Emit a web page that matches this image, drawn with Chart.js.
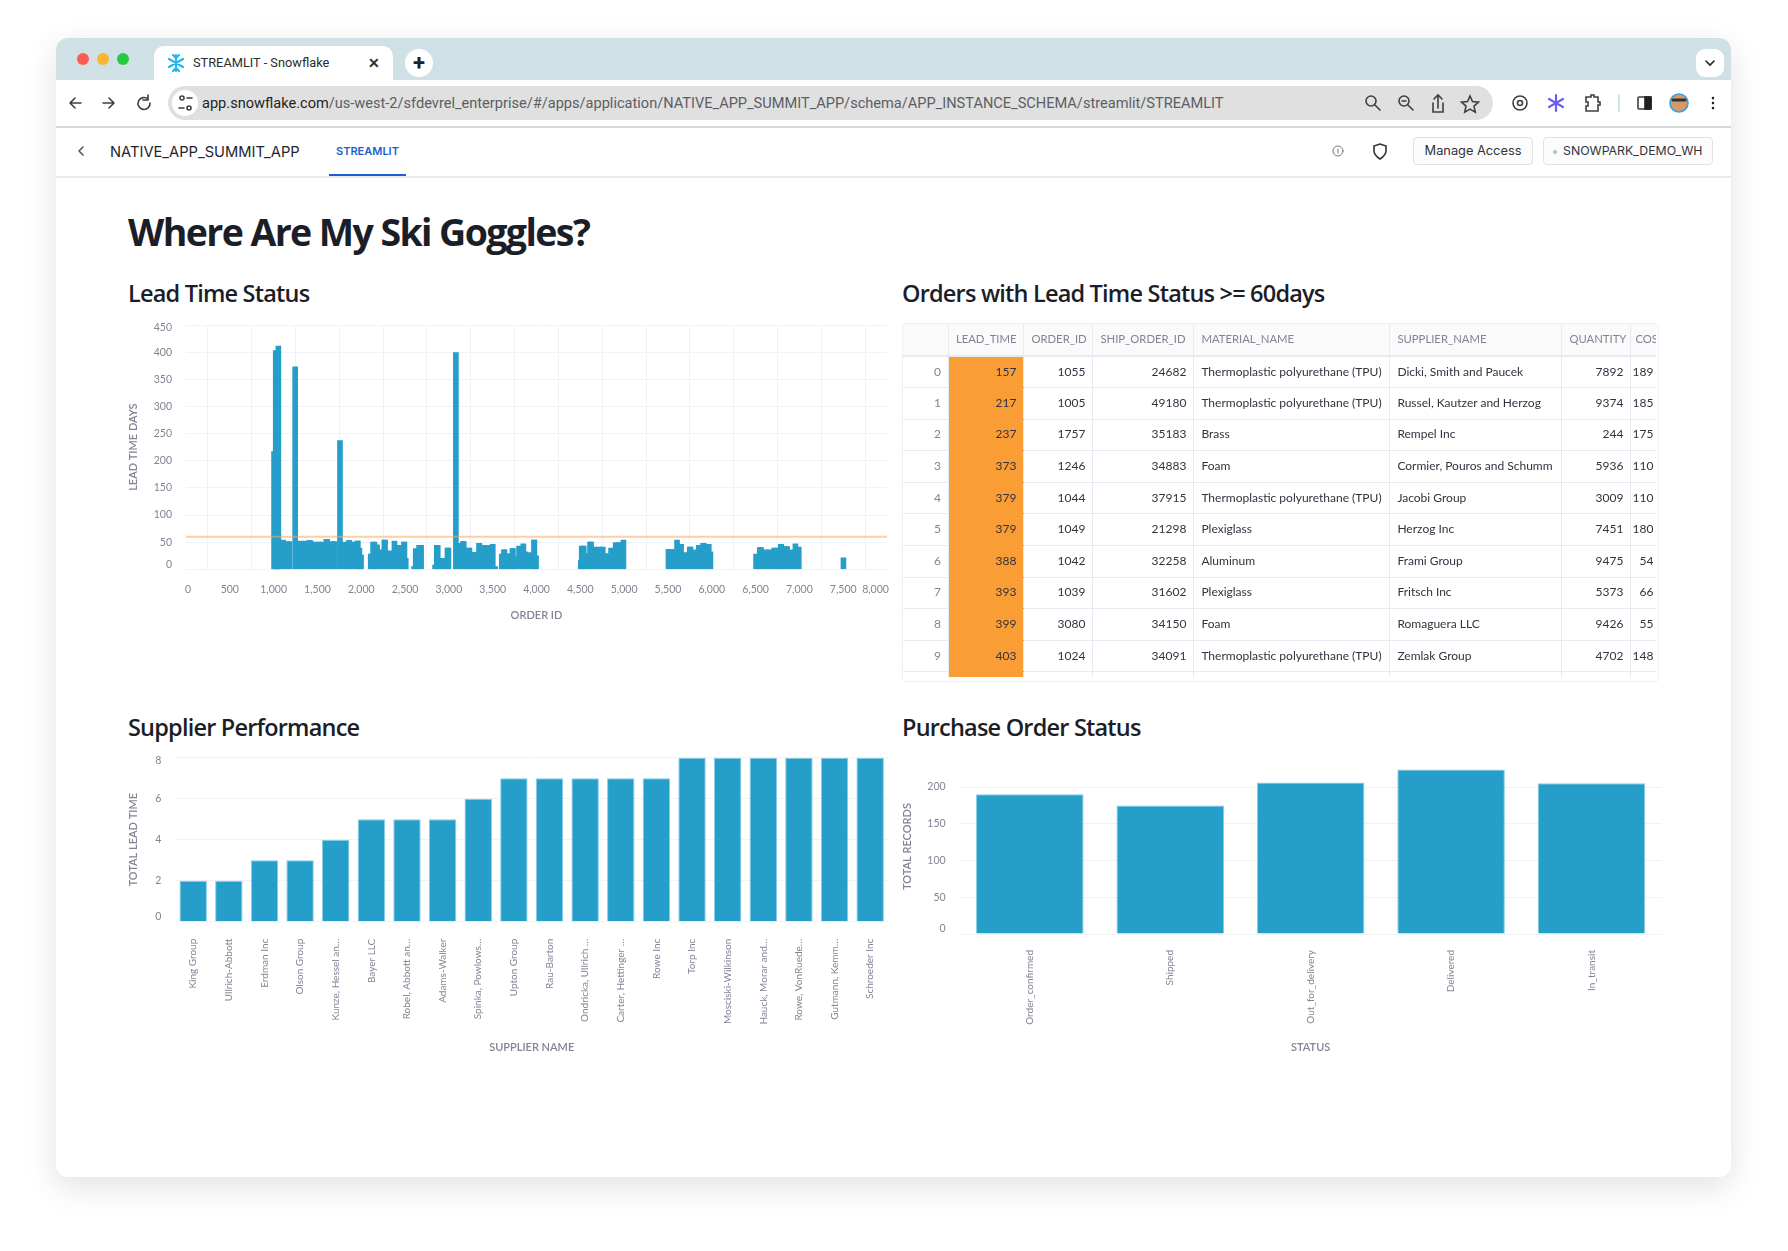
<!DOCTYPE html>
<html>
<head>
<title>STREAMLIT - Snowflake</title>
<meta charset="utf-8">
<script src="https://cdn.jsdelivr.net/npm/chart.js@4"></script>
<style>
html,body{margin:0;padding:0;background:#fff;width:1788px;height:1251px;overflow:hidden;font-family:Lato,sans-serif}
.abs,canvas,svg.ic{position:absolute}
.abs{white-space:nowrap}
#win{position:absolute;left:56px;top:38px;width:1675px;height:1139px;background:#fff;border-radius:12px;box-shadow:0 10px 32px rgba(0,0,0,.12)}
h1,h2{position:absolute;margin:0;color:#1b1e27;white-space:nowrap;font-family:"Open Sans";font-weight:700}
h1{left:128px;top:206px;font-size:37.5px;line-height:52px;letter-spacing:-1.6px}
h2{font-size:23.5px;line-height:32px;font-weight:600;letter-spacing:-.8px}
#tbl{position:absolute;left:902px;top:323px;width:757px;height:359px;border:1px solid #eef0f3;box-sizing:border-box;border-radius:4px;overflow:hidden}
#tblclip{position:absolute;left:0;top:0;width:753px;height:353px;overflow:hidden}
table{border-collapse:collapse;table-layout:fixed;width:758px;font:12px Lato;color:#31333f}
th{height:32px;padding:0 7px 2px;background:#fafafa;font-weight:400;font-size:11.3px;color:#808495;text-align:left;border-right:1px solid #e6eaf1;border-bottom:2px solid #e6eaf1;box-sizing:border-box;overflow:hidden}
th:last-child{padding-left:4px}
td{height:31.6px;padding:0 7px 2px;border-right:1px solid #e6eaf1;border-bottom:1px solid #e6eaf1;box-sizing:border-box;overflow:hidden;white-space:nowrap}
td:last-child{padding-left:0}
td.n{text-align:right}
td.i{text-align:right;color:#808495;background:#fff}
td.o{background:#fb9d35;text-align:right;border-bottom-color:#fb9d35}
.btn{position:absolute;border:1px solid #dfe1e5;border-radius:4px;background:#fcfcfc;box-sizing:border-box;color:#30343c;font:12.8px Inter;text-align:center;line-height:26px}
</style>
</head>
<body>
<div id="win"></div>
<!-- browser frame -->
<div class="abs" style="left:56px;top:38px;width:1675px;height:42px;background:#cfe1e5;border-radius:12px 12px 0 0"></div>
<div class="abs" style="left:56px;top:80px;width:1675px;height:46px;background:#fff;border-bottom:2px solid #d5d7da;border-radius:8px 8px 0 0"></div>
<div class="abs" style="left:154px;top:46px;width:239px;height:38px;background:#fff;border-radius:10px 10px 0 0"></div>
<div class="abs" style="left:77px;top:53px;width:12px;height:12px;border-radius:6px;background:#fd5c55"></div>
<div class="abs" style="left:97px;top:53px;width:12px;height:12px;border-radius:6px;background:#fbb52f"></div>
<div class="abs" style="left:117px;top:53px;width:12px;height:12px;border-radius:6px;background:#28c840"></div>
<div class="abs" style="left:193px;top:54px;font:12.8px/18px Roboto;color:#2a2d31">STREAMLIT - Snowflake</div>
<div class="abs" style="left:368px;top:54px;font:700 14px/18px Roboto;color:#2a2d31">✕</div>
<div class="abs" style="left:405px;top:49px;width:28px;height:28px;border-radius:14px;background:#fff;text-align:center;font:700 22px/27px Roboto;color:#222">+</div>
<div class="abs" style="left:1696px;top:49px;width:28px;height:28px;border-radius:9px;background:#fff"></div>
<div class="abs" style="left:168px;top:86px;width:1325px;height:34px;border-radius:17px;background:#e0e0e0"></div>
<div class="abs" style="left:172px;top:90px;width:26px;height:26px;border-radius:13px;background:#fff"></div>
<div class="abs" style="left:202px;top:93px;font:14.58px/20px Roboto;color:#1f1f1f" id="url"><span>app.snowflake.com</span><span style="color:#5b5e63">/us-west-2/sfdevrel_enterprise/#/apps/application/NATIVE_APP_SUMMIT_APP/schema/APP_INSTANCE_SCHEMA/streamlit/STREAMLIT</span></div>
<!-- app header -->
<div class="abs" style="left:56px;top:176px;width:1675px;height:2px;background:#e8e9eb"></div>
<div class="abs" style="left:110px;top:142px;font:14.7px/20px Inter;color:#1e252f">NATIVE_APP_SUMMIT_APP</div>
<div class="abs" style="left:336px;top:143px;font:600 11px/16px Inter;color:#1a5fd0">STREAMLIT</div>
<div class="abs" style="left:329px;top:174px;width:77px;height:2px;background:#1a5fd0"></div>
<div class="btn" style="left:1413px;top:137px;width:120px;height:28px">Manage Access</div>
<div class="btn" style="left:1543px;top:137px;width:170px;height:28px;text-align:left;padding-left:19px;font-size:12.3px">SNOWPARK_DEMO_WH</div>
<div class="abs" style="left:1553px;top:150px;width:4px;height:4px;border-radius:2px;background:#b9bcc2"></div>

<svg class="ic" style="left:0;top:0" width="1788" height="190" fill="none" stroke="#3c4043" stroke-width="1.6" stroke-linecap="round">
  <g stroke="#29b5e8" stroke-width="2.2"><path d="M176 55v16M169 59l14 8M183 59l-14 8M173 55l3 3 3-3M173 71l3-3 3 3"/></g>
  <path d="M70 103h11M70 103l5-5M70 103l5 5M103 103h11M114 103l-5-5M114 103l-5 5"/>
  <path d="M148 99a6 6 0 1 0 2 4M148 95v5h-5"/>
  <circle cx="182" cy="98" r="2"/><path d="M187 98h5M179 108h5"/><circle cx="189" cy="108" r="2"/>
  <path d="M1706 61l4 4 4-4" stroke="#222"/>
  <path d="M79 151l4-4M79 151l4 4" stroke="#555"/>
  <circle cx="1371" cy="101" r="5"/><path d="M1375 105l5 5"/>
  <circle cx="1404" cy="101" r="5"/><path d="M1408 105l5 5M1402 101h4"/>
  <path d="M1438 96v12M1434 99l4-4 4 4M1433 103v9h10v-9"/>
  <path d="M1470 96l2.500 5.500 6 .6-4.500 4 1.300 6-5.300-3-5.300 3 1.300-6-4.500-4 6-.6z"/>
  <circle cx="1520" cy="103" r="7"/><circle cx="1520" cy="103" r="2.500"/>
  <g stroke="#6b5df0" stroke-width="2.200"><path d="M1556 95v16M1549 99l14 8M1563 99l-14 8"/></g>
  <path d="M1586 97h5v-2h3v2h4v5h2v3h-2v6h-12v-5h2v-4h-2z"/>
  <path d="M1619 95v16" stroke="#c5dbe3"/>
  <rect x="1638" y="97" width="13" height="12" rx="1"/><rect x="1645" y="97" width="6" height="12" fill="#222" stroke="#222"/>
  <circle cx="1679" cy="103" r="9" fill="#d39a6b" stroke="#3aa0d8"/><path d="M1673 100h12" stroke="#333" stroke-width="3"/>
  <path d="M1713 98v.1M1713 103v.1M1713 108v.1" stroke="#222" stroke-width="2.600"/>
  <circle cx="1338" cy="151" r="5" stroke="#777" stroke-width="1"/><path d="M1338 149v4" stroke="#777" stroke-width="1"/>
  <path d="M1380 144l6 2v5c0 4-3 6-6 8-3-2-6-4-6-8v-5z" stroke="#333"/>
</svg>

<h1>Where Are My Ski Goggles?</h1>
<h2 style="left:128px;top:277px">Lead Time Status</h2>
<h2 style="left:902px;top:277px">Orders with Lead Time Status &gt;= 60days</h2>
<h2 style="left:128px;top:711px">Supplier Performance</h2>
<h2 style="left:902px;top:711px">Purchase Order Status</h2>

<canvas id="leadChart" style="left:120px;top:280px;width:800px;height:350px"></canvas>
<canvas id="supplierChart" style="left:120px;top:715px;width:780px;height:340px"></canvas>
<canvas id="statusChart" style="left:890px;top:715px;width:780px;height:340px"></canvas>

<div id="tbl"><div id="tblclip"></div></div>

<script>
// lead time per order
const orderIds = [1005,1024,1039,1042,1044,1049,1054,1108,1157,1180,1246,1298,1351,1404,1420,1473,1522,1549,1602,1610,1663,1694,1757,1808,1861,1865,1903,1956,1960,1979,1998,
  2108,2135,2150,2181,2211,2264,2272,2325,2379,2432,2436,2489,2493,2508,2603,2622,2660,2683,2843,2862,2873,2926,2930,2984,2995,3080,3109,3162,3170,3223,3235,3288,3292,3345,3349,3402,3440,3463,3501,3528,
  3604,3630,3634,3672,3726,3730,3748,3801,3850,3869,3919,3972,3976,3995,4505,4516,4539,4558,4611,4623,4661,4714,4756,4802,4851,4904,4946,4992,
  5506,5555,5604,5650,5696,5749,5757,5802,5852,5901,5909,5966,5985,6506,6548,6563,6617,6658,6712,6734,6788,6792,6845,6860,6909,6955,6993,7503];
const leadDays = [217,403,393,388,379,379,411,54,51,51,373,52,52,53,53,50,50,50,55,55,51,51,237,50,53,53,50,52,52,39,26,
  28,50,50,45,36,54,54,34,52,44,44,50,50,20,5,38,44,44,8,44,44,20,20,39,39,399,48,51,51,39,39,31,31,48,48,44,44,44,46,5,
  28,36,36,29,38,38,23,43,47,32,31,54,54,25,16,43,43,29,50,50,41,41,41,29,39,49,49,54,
  37,37,54,46,31,41,41,36,44,48,48,46,32,28,40,40,36,36,39,39,46,46,42,42,36,47,41,21];
const leadRule = 60;
const leadYTicks = [0,50,100,150,200,250,300,350,400,450];

const suppliers = ["King Group","Ullrich-Abbott","Erdman Inc","Olson Group","Kunze, Hessel an…","Bayer LLC","Robel, Abbott an…","Adams-Walker","Spinka, Powlows…","Upton Group","Rau-Barton","Ondricka, Ullrich …","Carter, Hettinger …","Rowe Inc","Torp Inc","Mosciski-Wilkinson","Hauck, Morar and…","Rowe, VonRuede…","Gutmann, Kemm…","Schroeder Inc"];
const supplierLead = [2,2,3,3,4,5,5,5,6,7,7,7,7,7,8,8,8,8,8,8];

const statuses = ["Order_confirmed","Shipped","Out_for_delivery","Delivered","In_transit"];
const statusRecords = [190,175,206,224,205];
const statusYTicks = [0,50,100,150,200];

// table columns
const tblHeaders = ["","LEAD_TIME","ORDER_ID","SHIP_ORDER_ID","MATERIAL_NAME","SUPPLIER_NAME","QUANTITY","COST"];
const tblWidths = [45.4,75.5,69,101,196,172,69,30];
const tblLead = [157,217,237,373,379,379,388,393,399,403];
const tblOrder = [1055,1005,1757,1246,1044,1049,1042,1039,3080,1024];
const tblShip = [24682,49180,35183,34883,37915,21298,32258,31602,34150,34091];
const tblMaterial = ["Thermoplastic polyurethane (TPU)","Thermoplastic polyurethane (TPU)","Brass","Foam","Thermoplastic polyurethane (TPU)","Plexiglass","Aluminum","Plexiglass","Foam","Thermoplastic polyurethane (TPU)"];
const tblSupplier = ["Dicki, Smith and Paucek","Russel, Kautzer and Herzog","Rempel Inc","Cormier, Pouros and Schumm","Jacobi Group","Herzog Inc","Frami Group","Fritsch Inc","Romaguera LLC","Zemlak Group"];
const tblQty = [7892,9374,244,5936,3009,7451,9475,5373,9426,4702];
const tblCost = [189,185,175,110,110,180,54,66,55,148];

const barBlue = "#259ec9";
const barEdge = "#86cde5";
const gridCol = "#f0f2f6";
const tickCol = "#808495";
const tickFont = {family:"Lato", size:10.5};
const catFont = {family:"Lato", size:10};
const titleFont = {family:"Lato", size:11, weight:"600"};

// vega keeps the first/last tick label inside the plot, so nudge those two
function flushEnds(first, last){
  return function(scale){
    if(scale._flushed) return;
    scale._flushed = true;
    const orig = scale._computeLabelItems.bind(scale);
    const idx = scale.isHorizontal() ? 0 : 1;
    scale._computeLabelItems = function(area){
      const items = orig(area);
      items[0].options.translation[idx] += first;
      items[items.length-1].options.translation[idx] += last;
      return items;
    };
  };
}
function fixTicks(list){
  return function(scale){ scale.ticks = list.map(v => ({value:v})); };
}
function fixSize(prop, v){
  return function(scale){ scale[prop] = v; };
}
function axisTitle(text, pad){
  return {display:true, text:text, color:tickCol, font:titleFont, padding:pad};
}

new Chart("leadChart", {
  data:{datasets:[
    {type:"line", data:[{x:0,y:leadRule},{x:8000,y:leadRule}], borderColor:"rgba(250,170,90,.55)", borderWidth:2, pointRadius:0, order:0},
    {type:"bar", data:orderIds.map((id,i) => ({x:id,y:leadDays[i]})), backgroundColor:barBlue, barThickness:5, order:1}
  ]},
  options:{
    responsive:false, animation:false,
    layout:{padding:{top:45,right:33,left:0,bottom:0}},
    plugins:{legend:{display:false},tooltip:{enabled:false}},
    scales:{
      x:{type:"linear", offset:false, min:0, max:8000, afterFit:fixSize("height",60.7), beforeUpdate:flushEnds(2,-11.5),
        border:{display:false}, grid:{color:gridCol,drawTicks:false},
        ticks:{stepSize:500, autoSkip:false, maxRotation:0, padding:14, color:tickCol, font:tickFont, callback:v => v.toLocaleString("en-US")},
        title:axisTitle("ORDER ID",{top:0,bottom:8})},
      y:{min:0, max:450, afterBuildTicks:fixTicks(leadYTicks), afterFit:fixSize("width",66), beforeUpdate:flushEnds(-5,3),
        border:{display:false}, grid:{color:gridCol,drawTicks:false},
        ticks:{padding:14, color:tickCol, font:tickFont},
        title:axisTitle("LEAD TIME DAYS",{top:7,bottom:0})}
    }
  }
});

new Chart("supplierChart", {
  type:"bar",
  data:{labels:suppliers, datasets:[{data:supplierLead, backgroundColor:barBlue, borderColor:barEdge, borderWidth:1, barPercentage:.77, categoryPercentage:1}]},
  options:{
    responsive:false, animation:false,
    layout:{padding:{top:42.7,right:12,left:0,bottom:0}},
    plugins:{legend:{display:false},tooltip:{enabled:false}},
    scales:{
      x:{afterFit:fixSize("height",133.3), border:{display:false}, grid:{display:false},
        ticks:{autoSkip:false, minRotation:90, maxRotation:90, padding:9, color:tickCol, font:catFont},
        title:axisTitle("SUPPLIER NAME",{top:0,bottom:1})},
      y:{min:0, max:8, afterFit:fixSize("width",55.4), beforeUpdate:flushEnds(-5,3),
        border:{display:false}, grid:{color:gridCol,drawTicks:false},
        ticks:{stepSize:2, padding:14, color:tickCol, font:tickFont},
        title:axisTitle("TOTAL LEAD TIME",{top:7,bottom:0})}
    }
  }
});

new Chart("statusChart", {
  type:"bar",
  data:{labels:statuses, datasets:[{data:statusRecords, backgroundColor:barBlue, borderColor:barEdge, borderWidth:1, barPercentage:.766, categoryPercentage:1}]},
  options:{
    responsive:false, animation:false,
    layout:{padding:{top:44.1,right:8.3,left:0,bottom:0}},
    plugins:{legend:{display:false},tooltip:{enabled:false}},
    scales:{
      x:{afterFit:fixSize("height",121), border:{display:false}, grid:{display:false},
        ticks:{autoSkip:false, minRotation:90, maxRotation:90, padding:8, color:tickCol, font:catFont},
        title:axisTitle("STATUS",{top:0,bottom:1})},
      y:{min:0, max:238, afterBuildTicks:fixTicks(statusYTicks), afterFit:fixSize("width",69.6), beforeUpdate:flushEnds(-5,0),
        border:{display:false}, grid:{color:gridCol,drawTicks:false},
        ticks:{padding:14, color:tickCol, font:tickFont},
        title:axisTitle("TOTAL RECORDS",{top:11,bottom:0})}
    }
  }
});

// the dataframe on the right
let html = "<table><colgroup>" + tblWidths.map(w => '<col style="width:'+w+'px">').join("") + "</colgroup><tr>";
tblHeaders.forEach(h => { html += "<th>" + h + "</th>"; });
html += "</tr>";
for(let i = 0; i < tblLead.length; i++){
  html += '<tr><td class="i">'+i+'</td><td class="o">'+tblLead[i]+'</td><td class="n">'+tblOrder[i]+'</td><td class="n">'+tblShip[i]+'</td><td>'+tblMaterial[i]+'</td><td>'+tblSupplier[i]+'</td><td class="n">'+tblQty[i]+'</td><td class="n">'+tblCost[i]+'</td></tr>';
}
html += '<tr><td></td><td class="o"></td><td></td><td></td><td></td><td></td><td></td><td></td></tr></table>';
document.getElementById("tblclip").innerHTML = html;
</script>
</body>
</html>
